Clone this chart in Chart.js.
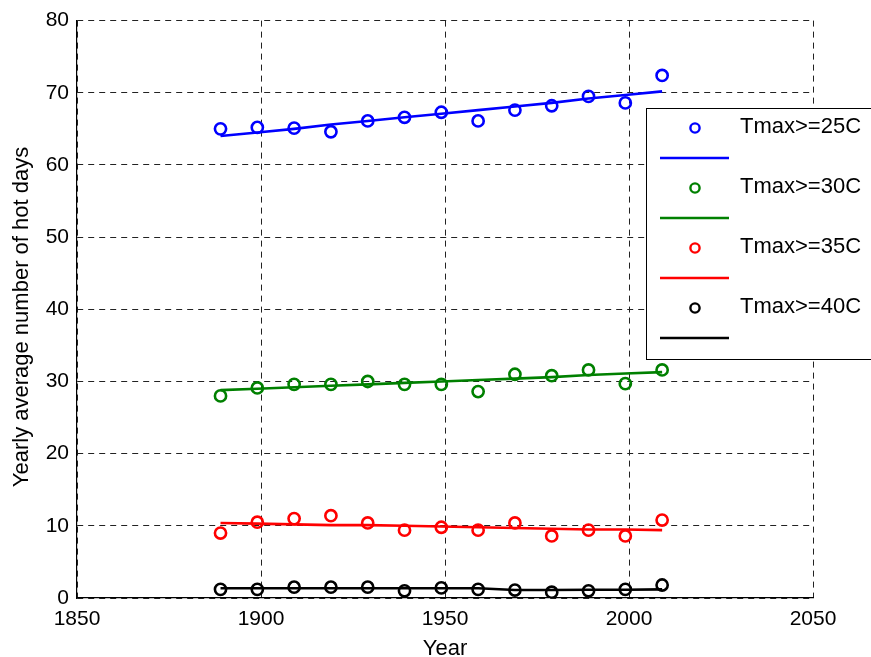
<!DOCTYPE html>
<html>
<head>
<meta charset="utf-8">
<title>Yearly average number of hot days</title>
<script src="https://cdn.jsdelivr.net/npm/chart.js@4/dist/chart.umd.min.js"></script>
<style>
  body { margin: 0; background: #fff; }
  canvas { display: block; }
</style>
</head>
<body>
<canvas id="hotDays" width="871" height="657"></canvas>
<script>
// --- data ---
const years = [1889, 1899, 1909, 1919, 1929, 1939, 1949, 1959, 1969, 1979, 1989, 1999, 2009];

const hot25 = [65.0, 65.2, 65.1, 64.6, 66.1, 66.6, 67.3, 66.1, 67.6, 68.2, 69.5, 68.6, 72.4];
const fit25 = [64.0, 64.5, 65.0, 65.6, 66.1, 66.6, 67.1, 67.6, 68.1, 68.6, 69.2, 69.7, 70.2];

const hot30 = [28.0, 29.1, 29.6, 29.6, 30.0, 29.6, 29.6, 28.6, 31.0, 30.8, 31.6, 29.7, 31.6];
const fit30 = [28.8, 29.0, 29.2, 29.4, 29.6, 29.8, 30.0, 30.2, 30.4, 30.6, 30.9, 31.1, 31.3];

const hot35 = [9.0, 10.5, 11.0, 11.4, 10.4, 9.4, 9.8, 9.4, 10.4, 8.6, 9.4, 8.6, 10.8];
const fit35 = [10.4, 10.3, 10.2, 10.1, 10.1, 10.0, 9.9, 9.8, 9.7, 9.6, 9.5, 9.5, 9.4];

const hot40 = [1.2, 1.2, 1.5, 1.5, 1.5, 1.0, 1.4, 1.2, 1.1, 0.8, 1.0, 1.2, 1.8];
const fit40 = [1.35, 1.35, 1.35, 1.35, 1.35, 1.35, 1.35, 1.35, 1.1, 1.1, 1.15, 1.15, 1.2];

const seriesLabels = ['Tmax>=25C', 'Tmax>=30C', 'Tmax>=35C', 'Tmax>=40C'];
const seriesColors = ['#0000ff', '#008000', '#ff0000', '#000000'];

const xTicks = [1850, 1900, 1950, 2000, 2050];
const yTicks = [0, 10, 20, 30, 40, 50, 60, 70, 80];

const xTitle = 'Year';
const yTitle = 'Yearly average number of hot days';

const FONT = '"Liberation Sans", Arial, sans-serif';

// --- build datasets ---
const toPoints = (vals) => vals.map((v, i) => ({ x: years[i], y: v }));

const observed = [hot25, hot30, hot35, hot40];
const fitted = [fit25, fit30, fit35, fit40];

const datasets = [];
observed.forEach((vals, i) => {
    datasets.push({
        label: seriesLabels[i],
        data: toPoints(vals),
        showLine: false,
        pointStyle: 'circle',
        pointRadius: 5.6,
        pointBorderWidth: 2.6,
        pointBorderColor: seriesColors[i],
        pointBackgroundColor: 'rgba(0,0,0,0)',
        order: 1
    });
    datasets.push({
        label: '',
        data: toPoints(fitted[i]),
        showLine: true,
        borderColor: seriesColors[i],
        borderWidth: 2.6,
        pointRadius: 0,
        tension: 0,
        order: 2
    });
});

// --- y title (sits a little below the plot centre) and the MATLAB style legend box ---
const extras = {
    id: 'extras',
    afterDraw(chart) {
        const ctx = chart.ctx;
        ctx.save();

        ctx.fillStyle = '#000';
        ctx.font = '22px ' + FONT;
        ctx.textAlign = 'center';
        ctx.textBaseline = 'middle';
        ctx.translate(22, 317);
        ctx.rotate(-Math.PI / 2);
        ctx.fillText(yTitle, 0, 0);
        ctx.setTransform(1, 0, 0, 1, 0, 0);

        const left = 646, top = 108, bottom = 359;
        ctx.fillStyle = '#fff';
        ctx.fillRect(left, top, 260, bottom - top);
        ctx.strokeStyle = '#000';
        ctx.lineWidth = 1;
        ctx.strokeRect(left + 0.5, top + 0.5, 260, bottom - top);

        seriesLabels.forEach((label, i) => {
            const markY = 128 + i * 60;
            const lineY = 158 + i * 60;
            ctx.strokeStyle = seriesColors[i];
            ctx.lineWidth = 2.4;
            ctx.beginPath();
            ctx.arc(695, markY, 4.6, 0, Math.PI * 2);
            ctx.stroke();

            ctx.lineWidth = 2.6;
            ctx.beginPath();
            ctx.moveTo(660, lineY);
            ctx.lineTo(729, lineY);
            ctx.stroke();

            ctx.fillStyle = '#000';
            ctx.font = '22px ' + FONT;
            ctx.textBaseline = 'middle';
            ctx.textAlign = 'left';
            ctx.fillText(label, 740, markY - 1);
        });
        ctx.restore();
    }
};

new Chart(document.getElementById('hotDays'), {
    type: 'scatter',
    data: { datasets },
    plugins: [extras],
    options: {
        responsive: false,
        animation: false,
        devicePixelRatio: 1,
        layout: { padding: { top: 20, right: 58, left: 0, bottom: 0 } },
        plugins: {
            legend: { display: false },
            tooltip: { enabled: false }
        },
        scales: {
            x: {
                type: 'linear',
                min: 1850,
                max: 2050,
                afterBuildTicks: (scale) => { scale.ticks = xTicks.map(v => ({ value: v })); },
                afterFit: (scale) => { scale.height = 59; },
                ticks: {
                    color: '#000',
                    font: { family: FONT, size: 21 },
                    padding: 9,
                    maxRotation: 0,
                    callback: (v) => String(v)
                },
                grid: { color: '#222', lineWidth: 1, drawTicks: false },
                border: { display: true, color: '#000', width: 1.2, dash: [6, 5] },
                title: {
                    display: true,
                    text: xTitle,
                    color: '#000',
                    font: { family: FONT, size: 22, lineHeight: 1 },
                    padding: { top: 0, bottom: -3 }
                }
            },
            y: {
                min: 0,
                max: 80,
                afterBuildTicks: (scale) => { scale.ticks = yTicks.map(v => ({ value: v })); },
                afterFit: (scale) => { scale.width = 77; },
                ticks: {
                    color: '#000',
                    font: { family: FONT, size: 21 },
                    padding: 8,
                    callback: (v) => String(v)
                },
                grid: { color: '#222', lineWidth: 1, drawTicks: false },
                border: { display: true, color: '#000', width: 1.2, dash: [6, 5] }
            }
        }
    }
});
</script>
</body>
</html>
